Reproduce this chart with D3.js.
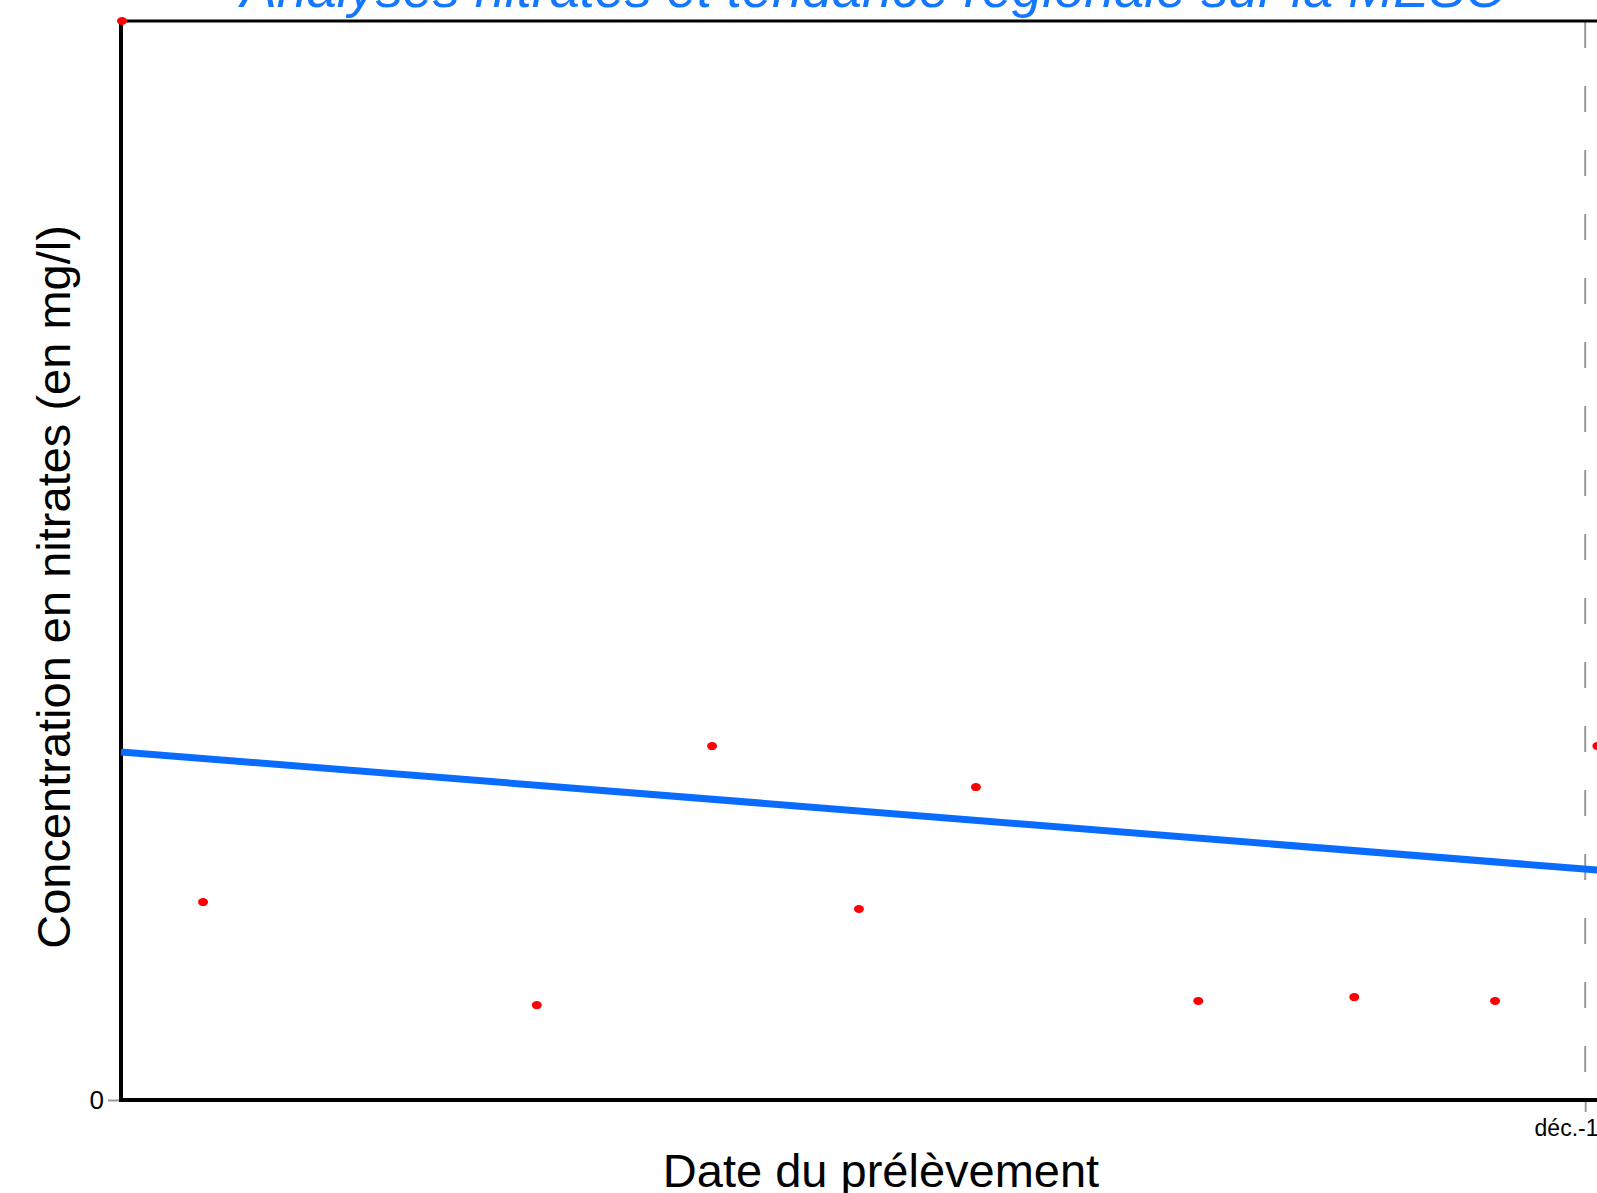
<!DOCTYPE html>
<html>
<head>
<meta charset="utf-8">
<script src="https://cdn.jsdelivr.net/npm/d3@7"></script>
<style>
  html, body { margin: 0; padding: 0; background: #fff; overflow: hidden; }
  svg { display: block; font-family: "Liberation Sans", Arial, sans-serif; }
</style>
</head>
<body>
<svg id="chart" width="1597" height="1193"></svg>
<script>
// sampling dates and nitrate values (mg/l)
var dates = ["1992-01-03", "1992-06-11", "1994-04-01", "1995-03-13", "1995-12-28",
             "1996-08-15", "1997-10-28", "1998-09-01", "1999-06-06", "1999-12-25"];
var values = [50, 9.17, 4.40, 16.40, 8.85, 14.50, 4.59, 4.77, 4.59, 16.40];
// regional trend (start / end)
var trendDates = ["1992-01-01", "2000-04-01"];
var trendValues = [16.13, 10.47];
// axis ticks
var xTicks = ["1999-12-01"];
var xTickLabels = ["déc.-1999"];
var yTicks = [0];

var parse = d3.timeParse("%Y-%m-%d");
var blue = "#0a6cff";

var svg = d3.select("#chart");
var plotLeft = 121, plotTop = 21, plotBottom = 1100;

var x = d3.scaleTime()
  .domain([parse("1992-01-01"), parse("2000-04-01")])
  .range([plotLeft, 1647]);
var y = d3.scaleLinear()
  .domain([0, 50])
  .range([plotBottom, plotTop]);

// title (clipped at the top like the original)
svg.append("text")
  .attr("x", 874).attr("y", 7)
  .attr("text-anchor", "middle")
  .attr("font-size", 54)
  .attr("font-style", "italic")
  .attr("fill", "#1477ff")
  .text("Analyses nitrates et tendance régionale sur la MESO");

// dashed reference line at the date tick
svg.selectAll(".vline")
  .data(xTicks)
  .enter()
  .append("line")
  .attr("x1", function(d) { return x(parse(d)); })
  .attr("x2", function(d) { return x(parse(d)); })
  .attr("y1", plotTop + 1)
  .attr("y2", plotBottom)
  .attr("stroke", "#999")
  .attr("stroke-width", 2)
  .attr("stroke-dasharray", "26,38");

// y axis
var yAxis = svg.append("g")
  .attr("transform", "translate(" + plotLeft + ",0)")
  .call(d3.axisLeft(y).tickValues(yTicks).tickSize(13).tickPadding(4));
yAxis.select(".domain").remove();
yAxis.selectAll(".tick line").attr("stroke", "#999").attr("stroke-width", 2);
yAxis.selectAll(".tick text").attr("font-size", 26).attr("fill", "#000")
  .attr("font-family", "Liberation Sans, Arial, sans-serif");

// x axis
var xAxis = svg.append("g")
  .attr("transform", "translate(0," + plotBottom + ")")
  .call(d3.axisBottom(x)
    .tickValues(xTicks.map(parse))
    .tickFormat(function(d, i) { return xTickLabels[i]; })
    .tickSize(12).tickPadding(8));
xAxis.select(".domain").remove();
xAxis.selectAll(".tick line").attr("stroke", "#999").attr("stroke-width", 2);
xAxis.selectAll(".tick text").attr("font-size", 23).attr("fill", "#000")
  .attr("font-family", "Liberation Sans, Arial, sans-serif");

// frame lines
svg.append("line").attr("x1", plotLeft).attr("x2", 1597).attr("y1", plotTop).attr("y2", plotTop)
  .attr("stroke", "#000").attr("stroke-width", 3);
svg.append("line").attr("x1", plotLeft).attr("x2", plotLeft).attr("y1", plotTop - 2).attr("y2", plotBottom + 2)
  .attr("stroke", "#000").attr("stroke-width", 4);
svg.append("line").attr("x1", plotLeft - 2).attr("x2", 1597).attr("y1", plotBottom).attr("y2", plotBottom)
  .attr("stroke", "#000").attr("stroke-width", 4);

// trend line
svg.append("line")
  .attr("x1", x(parse(trendDates[0]))).attr("y1", y(trendValues[0]))
  .attr("x2", x(parse(trendDates[1]))).attr("y2", y(trendValues[1]))
  .attr("stroke", blue)
  .attr("stroke-width", 7);

// sample points
svg.selectAll(".pt")
  .data(values)
  .enter()
  .append("ellipse")
  .attr("cx", function(d, i) { return x(parse(dates[i])); })
  .attr("cy", function(d) { return y(d); })
  .attr("rx", 5)
  .attr("ry", 4)
  .attr("fill", "#ff0000");

// axis titles
svg.append("text")
  .attr("transform", "translate(70,587) rotate(-90)")
  .attr("text-anchor", "middle")
  .attr("font-size", 47)
  .text("Concentration en nitrates (en mg/l)");

svg.append("text")
  .attr("x", 881).attr("y", 1187)
  .attr("text-anchor", "middle")
  .attr("font-size", 47)
  .text("Date du prélèvement");
</script>
</body>
</html>
